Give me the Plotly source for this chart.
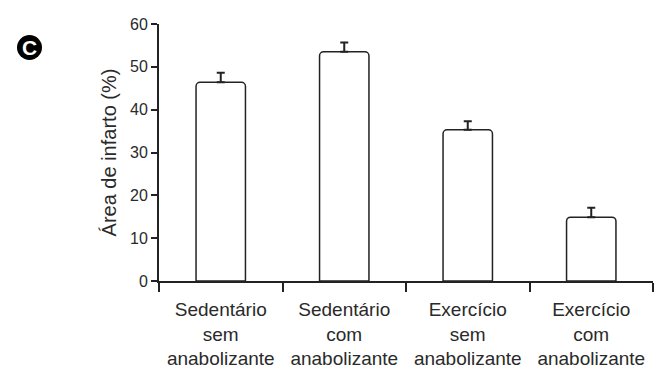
import plotly.graph_objects as go

categories = ["Sedentário<br>sem<br>anabolizante", "Sedentário<br>com<br>anabolizante",
              "Exercício<br>sem<br>anabolizante", "Exercício<br>com<br>anabolizante"]
values = [46.4, 53.5, 35.3, 14.9]
errors = [2.2, 2.2, 2.0, 2.2]
y_ticks = [0, 10, 20, 30, 40, 50, 60]

ink = "#222222"
text_color = "#2a2a2a"
font_family = "Liberation Sans, Arial, sans-serif"

fig = go.Figure()
fig.add_trace(go.Bar(
    x=categories, y=values,
    marker=dict(color="white", line=dict(color=ink, width=1.5), cornerradius=4),
    error_y=dict(type="data", array=errors, arrayminus=[0] * len(errors), symmetric=False,
                 color=ink, thickness=2, width=4),
    showlegend=False,
))

fig.update_layout(
    width=667, height=380,
    margin=dict(l=159, r=14, t=24, b=99),
    paper_bgcolor="white", plot_bgcolor="white",
    bargap=0.6,
    font=dict(family=font_family, color=text_color),
    xaxis=dict(
        type="category", showline=True, linecolor=ink, linewidth=2,
        ticks="outside", tickson="boundaries", ticklen=9, tickwidth=2, tickcolor=ink,
        tickfont=dict(size=19, color=text_color), ticklabelstandoff=10,
        showgrid=False, zeroline=False, automargin=False,
    ),
    yaxis=dict(
        range=[0, 60], tickvals=y_ticks, showline=True, linecolor=ink, linewidth=2,
        ticks="outside", ticklen=6, tickwidth=2, tickcolor=ink,
        tickfont=dict(size=16, color=text_color), showgrid=False, zeroline=False,
        title=dict(text="Área de infarto (%)", font=dict(size=20, color=text_color), standoff=8),
        automargin=False,
    ),
    shapes=[dict(type="circle", xref="paper", yref="paper",
                 x0=(17 - 159) / 494, x1=(42 - 159) / 494,
                 y0=(281 - 60) / 257, y1=(281 - 35) / 257,
                 fillcolor="black", line=dict(color="black", width=0))],
    annotations=[dict(text="<b>C</b>", xref="paper", yref="paper",
                      x=(29.5 - 159) / 494, y=(281 - 47.5) / 257, showarrow=False,
                      font=dict(size=21, color="white", family=font_family),
                      xanchor="center", yanchor="middle")],
)

fig.write_html("out.html")
